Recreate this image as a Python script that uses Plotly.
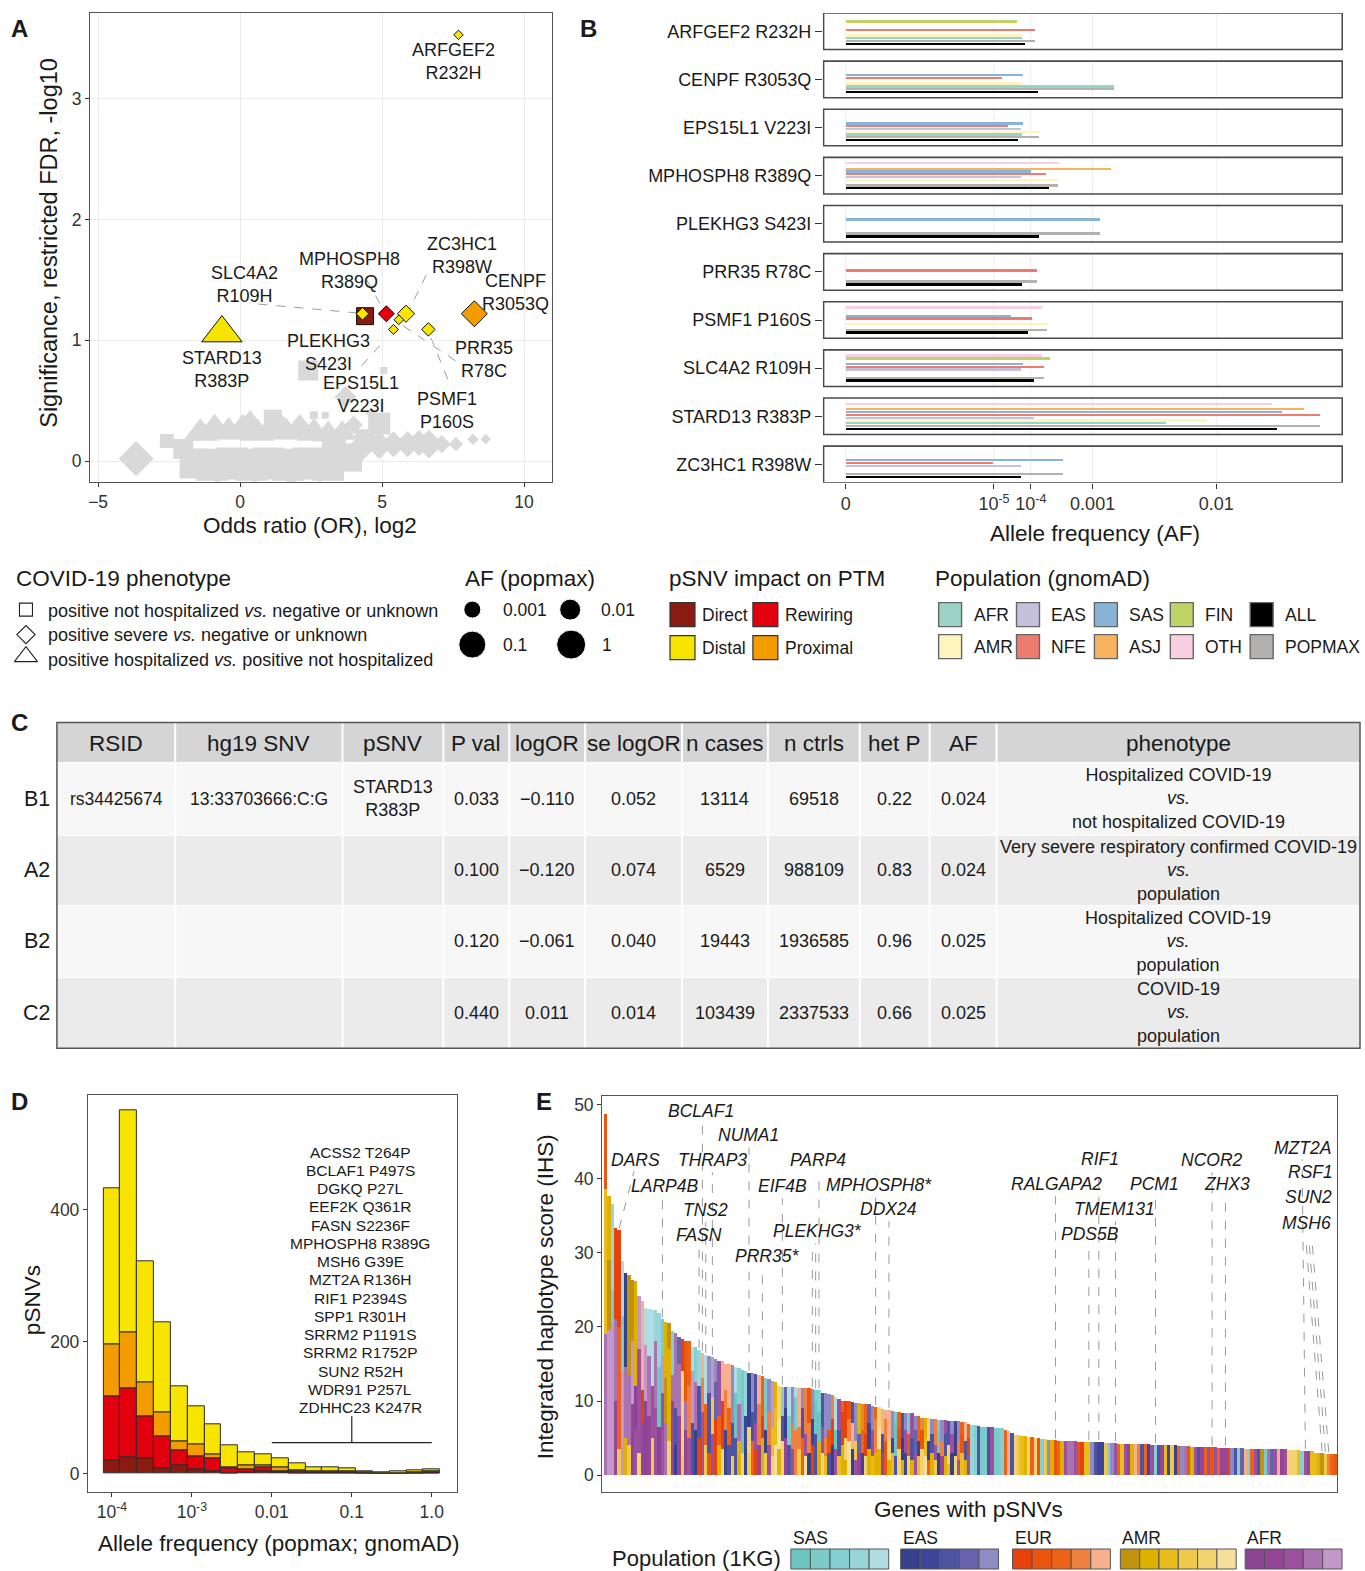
import numpy as np
import plotly.graph_objects as go

W, H = 1365, 1571
FONT = "Liberation Sans, Arial, Helvetica, sans-serif"
INK = "#1a1a1a"
TICK = "#333333"
FRAME = "#555555"

# ======================= DATA =======================
# ---- Panel A: association results ----
a_variant = ["STARD13 R383P", "PLEKHG3 S423I", "SLC4A2 R109H", "MPHOSPH8 R389Q",
             "ZC3HC1 R398W", "PRR35 R78C", "EPS15L1 V223I", "PSMF1 P160S",
             "CENPF R3053Q", "ARFGEF2 R232H"]
a_log2_or = [-0.64, 4.40, 4.31, 5.15, 5.84, 5.59, 5.40, 6.63, 8.25, 7.69]
a_neglog_fdr = [1.06, 1.20, 1.22, 1.22, 1.22, 1.17, 1.09, 1.09, 1.22, 3.53]
a_phenotype = ["hosp", "nothosp", "severe", "severe", "severe", "severe",
               "severe", "severe", "severe", "severe"]
a_impact = ["Distal", "Direct", "Distal", "Rewiring", "Distal", "Distal",
            "Distal", "Distal", "Proximal", "Distal"]
a_af_popmax = [0.0349, 1.19e-3, 1.86e-4, 3.23e-4, 3.9e-4, 1.35e-4, 1.48e-4,
               2.07e-4, 1.66e-3, 1.22e-4]

# non-significant pSNVs (grey)
a_bg_or = [-3.66, -2.58, -2.0, -1.6, -1.0, -0.3, 0.4, 1.0, 1.7, 2.4, 3.1, 3.8,
           -1.4, -0.9, -0.4, 0.1, 0.6, 1.1, 1.6, 2.1, 2.6, 3.1, 3.6, 0.35, 1.35,
           -0.8, 0.5, 1.8, 2.8, 1.15, 2.6, 3.0, 2.4, 5.06, 3.71, 4.0, 4.6, 4.9,
           4.4, 3.3, 4.3, 4.9, 5.4, 5.9, 6.3, 6.65, 7.1, 7.6, 8.2, 8.65]
a_bg_sig = [0.02, 0.165, 0.10, -0.02, -0.03, -0.02, -0.03, -0.02, -0.03, -0.02, -0.03, 0.03,
            0.23, 0.26, 0.24, 0.26, 0.23, 0.25, 0.24, 0.26, 0.23, 0.22, 0.23, 0.29, 0.29,
            -0.06, -0.05, -0.07, -0.05, 0.35, 0.38, 0.38, 0.75, 0.75, 0.53, 0.30, 0.40, 0.31,
            0.18, 0.14, 0.12, 0.13, 0.14, 0.14, 0.15, 0.14, 0.14, 0.14, 0.18, 0.18]
a_bg_pheno = ["severe", "nothosp", "nothosp", "nothosp", "nothosp", "nothosp", "nothosp",
              "nothosp", "nothosp", "nothosp", "nothosp", "nothosp",
              "hosp", "hosp", "hosp", "hosp", "hosp", "hosp", "hosp", "hosp", "hosp",
              "hosp", "hosp", "hosp", "hosp",
              "severe", "severe", "severe", "severe", "nothosp", "nothosp", "nothosp",
              "nothosp", "nothosp", "severe", "severe", "severe", "nothosp",
              "nothosp", "nothosp", "severe", "severe", "severe", "severe", "severe",
              "severe", "severe", "severe", "severe", "severe"]

# ---- Panel B: gnomAD allele frequencies ----
b_variant = ["ARFGEF2 R232H", "CENPF R3053Q", "EPS15L1 V223I", "MPHOSPH8 R389Q",
             "PLEKHG3 S423I", "PRR35 R78C", "PSMF1 P160S", "SLC4A2 R109H",
             "STARD13 R383P", "ZC3HC1 R398W"]
b_afr = [6.47e-5, 1.66e-3, 6.47e-5, 0, 0, 0, 0, 0, 4.54e-3, 0]
b_amr = [6.12e-5, 6.12e-5, 1.48e-4, 3.23e-4, 0, 0, 2.07e-4, 0, 8.76e-3, 0]
b_eas = [0, 0, 5.95e-5, 5.95e-5, 0, 0, 0, 5.95e-5, 1.135e-4, 5.95e-5]
b_nfe = [1.22e-4, 1.89e-5, 2.78e-5, 1.98e-4, 0, 1.35e-4, 1.05e-4, 1.86e-4, 0.0349, 8.8e-6]
b_sas = [0, 6.82e-5, 6.82e-5, 1.0e-4, 1.19e-3, 0, 3.39e-5, 6.82e-5, 0.0229, 3.9e-4]
b_asj = [0, 0, 0, 1.53e-3, 0, 0, 0, 0, 0.0295, 0]
b_fin = [4.88e-5, 0, 0, 0, 0, 0, 0, 2.35e-4, 0, 0]
b_oth = [0, 0, 0, 3.36e-4, 0, 0, 1.70e-4, 1.70e-4, 0.0204, 0]
b_all = [7.58e-5, 1.38e-4, 5.17e-5, 2.25e-4, 1.48e-4, 6.47e-5, 8.62e-5, 1.16e-4, 0.0218, 5.95e-5]
b_popmax = [1.22e-4, 1.66e-3, 1.48e-4, 3.23e-4, 1.19e-3, 1.35e-4, 2.07e-4, 1.86e-4, 0.0349, 3.9e-4]
b_tick_af = [0, 1e-5, 1e-4, 1e-3, 1e-2]
b_tick_text = ["0", "10<sup>-5</sup>", "10<sup>-4</sup>", "0.001", "0.01"]

# ---- Panel C: table ----
c_rowlab = ["B1", "A2", "B2", "C2"]
c_header = ["RSID", "hg19 SNV", "pSNV", "P val", "logOR", "se logOR", "n cases",
            "n ctrls", "het P", "AF", "phenotype"]
c_rsid = ["rs34425674", "", "", ""]
c_snv = ["13:33703666:C:G", "", "", ""]
c_psnv = ["STARD13<br>R383P", "", "", ""]
c_pval = [0.033, 0.100, 0.120, 0.440]
c_logor = [-0.110, -0.120, -0.061, 0.011]
c_se = [0.052, 0.074, 0.040, 0.014]
c_ncases = [13114, 6529, 19443, 103439]
c_nctrls = [69518, 988109, 1936585, 2337533]
c_hetp = [0.22, 0.83, 0.96, 0.66]
c_af = [0.024, 0.024, 0.025, 0.025]
c_pheno = ["Hospitalized COVID-19<br><i>vs.</i><br>not hospitalized COVID-19",
           "Very severe respiratory confirmed COVID-19<br><i>vs.</i><br>population",
           "Hospitalized COVID-19<br><i>vs.</i><br>population",
           "COVID-19<br><i>vs.</i><br>population"]

# ---- Panel D: AF histogram (bins centred on log10 AF) ----
d_bin_log10 = [-4.0, -3.789, -3.579, -3.368, -3.158, -2.947, -2.737, -2.526, -2.316, -2.105,
               -1.895, -1.684, -1.474, -1.263, -1.053, -0.842, -0.632, -0.421, -0.211, 0.0]
d_direct = [20, 25, 23, 8, 13, 6, 3, 1, 2, 3, 2, 1, 1, 1, 1, 0, 0, 0, 0, 1]
d_rewiring = [97, 105, 64, 48, 22, 21, 20, 7, 4, 6, 2, 2, 1, 1, 1, 1, 0, 1, 1, 1]
d_proximal = [79, 84, 52, 37, 14, 18, 7, 2, 6, 4, 5, 2, 2, 2, 1, 1, 1, 0, 1, 1]
d_distal = [236, 336, 183, 136, 83, 57, 45, 33, 21, 16, 14, 10, 5, 6, 5, 2, 1, 3, 3, 4]
d_common = ["ACSS2 T264P", "BCLAF1 P497S", "DGKQ P27L", "EEF2K Q361R", "FASN S2236F",
            "MPHOSPH8 R389G", "MSH6 G39E", "MZT2A R136H", "RIF1 P2394S", "SPP1 R301H",
            "SRRM2 P1191S", "SRRM2 R1752P", "SUN2 R52H", "WDR91 P257L", "ZDHHC23 K247R"]

# ---- Panel E: iHS per gene (overlaid population bars) ----
e_ihs_top = [48.7, 37.6, 36.6, 33.3, 33.0, 28.9, 27.2, 27.0, 26.3, 26.2,
             24.1, 23.4, 22.5, 22.4, 22.3, 22.2, 21.9, 21.0, 20.6, 20.5,
             19.4, 19.2, 18.6, 18.3, 18.1, 18.0, 17.3, 17.2, 16.8, 16.5,
             16.2, 16.1, 15.9, 15.7, 15.4, 15.3, 15.0, 14.95, 14.8, 14.5,
             14.4, 14.2, 14.0, 13.8, 13.7, 13.6, 13.5, 13.3, 13.1, 12.9,
             12.7, 12.5, 12.0, 11.9, 11.9, 11.8, 11.8, 11.8, 11.7, 11.7,
             11.7, 11.7, 11.6, 11.4, 11.4, 11.1, 11.0, 10.9, 10.8, 10.5,
             10.2, 10.0, 9.9, 9.9, 9.8, 9.7, 9.7, 9.5, 9.5, 9.5,
             9.3, 9.2, 9.1, 8.9, 8.8, 8.8, 8.6, 8.5, 8.5, 8.4,
             8.4, 8.3, 8.3, 8.0, 7.9, 7.7, 7.7, 7.6, 7.5, 7.5,
             7.4, 7.4, 7.4, 7.3, 7.3, 7.3, 7.2, 7.1, 7.1, 6.8,
             6.7, 6.7, 6.6, 6.5, 6.5,
             6.4, 6.4, 6.3, 6.3, 6.3, 6.0, 5.9, 5.7, 5.4, 5.4,
             5.3, 5.3, 5.1, 5.1, 5.0, 4.9, 4.8, 4.8, 4.7, 4.7,
             4.65, 4.6, 4.6, 4.6, 4.5, 4.5, 4.5, 4.45, 4.45, 4.45,
             4.45, 4.45, 4.45, 4.45, 4.4, 4.3, 4.3, 4.3, 4.3, 4.2,
             4.2, 4.2, 4.2, 4.2, 4.15, 4.15, 4.15, 4.1, 4.1, 4.05,
             4.05, 4.05, 4.05, 4.0, 4.0, 4.0, 4.0, 3.9, 3.9, 3.9,
             3.9, 3.75, 3.75, 3.75, 3.75, 3.72, 3.72, 3.7, 3.7, 3.65,
             3.65, 3.65, 3.65, 3.65, 3.6, 3.6, 3.6, 3.5, 3.5, 3.5,
             3.5, 3.5, 3.5, 3.5, 3.5, 3.5, 3.5, 3.5, 3.45, 3.45,
             3.3, 3.3, 3.3, 3.3, 3.25, 3.25, 3.2, 3.2, 2.9, 2.9,
             2.9, 2.8, 2.8, 2.8, 2.8]
e_pop_top = ["u2", "m2", "s4", "u1", "u1", "s5", "e1", "m1", "m1", "m2",
             "a5", "u5", "s5", "s5", "s5", "s4", "s4", "s2", "m2", "m1",
             "s3", "a4", "e4", "u1", "u2", "u3", "s5", "s3", "s4", "u5",
             "s5", "e5", "a5", "e5", "a3", "u5", "u5", "u5", "e5", "s5",
             "s3", "s2", "s4", "e1", "e5", "e3", "u5", "u3", "s2", "e5",
             "a5", "m2", "m5", "s3", "e4", "s5", "e5", "s5", "u5", "e5",
             "u4", "u2", "e5", "s2", "s3", "e3", "e5", "e5", "u4", "s5",
             "a3", "u3", "u1", "u2", "e3", "e5", "m2", "u4", "u3", "e4",
             "e5", "u3", "m5", "u5", "u5", "u5", "e5", "s2", "u3", "e3",
             "e5", "s2", "a3", "e5", "u3", "u4", "m2", "m5", "e5", "u4",
             "s2", "e5", "a3", "e3", "e5", "e2", "e5", "u3", "u5", "u3",
             "s4", "s3", "e3", "s2", "s2",
             "e3", "a3", "s2", "s2", "s3", "u3", "u5", "e3", "m5", "m4",
             "m3", "m2", "m5", "u3", "m5", "u2", "s3", "m4", "e5", "m2",
             "u2", "u3", "m2", "a3", "a4", "a4", "a3", "u2", "u1", "m3",
             "m3", "e5", "e3", "e2", "e2", "m4", "s3", "e5", "a3", "u3",
             "m3", "a3", "a2", "m2", "u5", "u4", "e3", "u3", "e2", "a3",
             "s3", "e3", "a2", "m3", "e2", "m4", "e1", "u3", "e5", "a4",
             "u2", "m2", "a3", "e3", "a2", "u3", "a3", "u2", "a3", "u3",
             "a2", "a2", "u1", "e5", "e3", "s3", "e4", "u5", "s3", "u3",
             "a3", "e3", "m1", "s2", "a4", "e4", "a3", "u5", "a2", "a3",
             "m5", "m5", "m5", "m3", "s3", "a3", "a2", "m3", "m3", "m2",
             "m1", "m4", "u4", "u3", "u2"]
e_ihs_mid = [38.6, 29.0, 25.0, 21.0, 20.0, 21.5, 14.5, 13.5, 18.0, 12.0,
             17.0, 11.5, 17.5, 16.0, 12.0, 18.0, 14.5, 16.0, 13.0, 17.0,
             13.5, 9.0, 15.0, 14.0, 10.0, 12.0, 14.0, 12.5, 12.0, 13.0,
             9.5, 11.0, 10.5, 12.5, 8.0, 10.0, 11.5, 9.0, 7.0, 11.0,
             9.5, 10.0, 8.0, 6.5, 8.5, 7.0, 9.5, 8.0, 6.0, 8.5,
             6.5, 9.0, 7.5, 8.0, 9.0, 8.0, 7.0, 10.5, 6.5, 9.0,
             5.5, 7.0, 7.5, 10.0, 8.5, 6.5, 5.0, 6.0, 7.5, 6.0,
             6.0, 8.5, 5.0, 7.5, 7.0, 4.5, 5.5, 6.0, 5.5, 7.0,
             6.0, 7.5, 6.5, 5.5, 7.5, 4.5, 5.0, 7.0, 6.5, 5.0,
             6.0, 5.5, 5.0, 6.0, 4.5, 6.0, 5.0, 4.5, 5.5, 4.0,
             6.0, 4.5, 5.5, 4.0, 5.5, 6.0, 4.5, 5.5, 4.5, 5.0]
e_pop_mid = ["m3", "m1", "s2", "a4", "u3", "s2", "a4", "a4", "a5", "a1",
             "a3", "u1", "a5", "a4", "a3", "a4", "s1", "a5", "m1", "m2",
             "a4", "e3", "a4", "m5", "a4", "u4", "a5", "a4", "e3", "u4",
             "u3", "e3", "m4", "e4", "u3", "u1", "u4", "u3", "e3", "s1",
             "a4", "s1", "e2", "m5", "e3", "a3", "u4", "u1", "e1", "u4",
             "m3", "m3", "m6", "e3", "e1", "s2", "u4", "s2", "u4", "e3",
             "a3", "u4", "e2", "s1", "s1", "a3", "u4", "u2", "u1", "s1",
             "e3", "u1", "m5", "u4", "u5", "m4", "e4", "u3", "u1", "e2",
             "a3", "u4", "m6", "e3", "u4", "m5", "e2", "s1", "u2", "e1",
             "a3", "u2", "e3", "e4", "e2", "u2", "m3", "e1", "e3", "a3",
             "s1", "u4", "e3", "m5", "a3", "e1", "u4", "u2", "e3", "u1"]
e_ihs_low = [19.0, 19.5, 20.5, 10.0, 3.5, 14.0, 5.0, 4.0, 9.5, 6.0,
             3.0, 7.0, 10.0, 8.0, 5.0, 9.0, 6.5, 11.0, 7.0, 4.5,
             10.0, 4.0, 8.0, 2.5, 6.0, 5.0, 7.0, 6.0, 5.0, 8.5,
             4.0, 3.0, 5.5, 7.5, 4.0, 3.5, 6.0, 4.0, 2.5, 5.0,
             4.5, 3.0, 3.5, 3.0, 4.5, 3.5, 4.0, 5.0, 3.0, 4.0,
             2.5, 4.0, 3.5, 4.5, 5.0, 4.0, 3.5, 6.0, 3.5, 5.0,
             2.5, 3.0, 4.0, 5.5, 4.5, 3.0, 2.5, 3.0, 4.0, 3.5,
             2.5, 4.0, 2.0, 4.5, 3.5, 2.0, 3.0, 3.0, 2.5, 3.5,
             2.5, 3.0, 3.5, 3.0, 4.5, 2.0, 3.0, 2.5, 3.5, 2.0,
             3.0, 2.5, 2.0, 3.0, 2.5, 3.5, 2.5, 2.0, 3.0, 2.0,
             3.0, 2.5, 2.5, 1.5, 3.0, 2.5, 2.0, 3.0, 2.0, 2.5]
e_pop_low = ["a4", "a5", "a5", "a2", "m4", "a5", "m2", "m4", "a2", "a3",
             "m5", "a2", "a1", "a2", "m4", "a3", "a1", "a3", "a4", "m5",
             "a2", "e1", "a2", "m4", "a2", "a3", "e3", "e1", "u1", "a3",
             "m4", "u2", "a3", "u1", "m2", "m5", "e2", "e3", "m4", "e3",
             "m2", "m5", "e1", "m4", "u3", "u1", "a2", "m2", "m4", "a3",
             "m5", "m6", "m2", "m5", "a2", "e3", "a3", "u4", "m4", "u3",
             "m6", "e1", "u1", "e3", "m2", "m5", "m3", "e3", "e1", "a3",
             "m3", "m2", "m2", "m6", "e1", "a3", "a2", "e2", "m5", "m2",
             "m3", "m2", "m2", "a2", "u2", "m2", "m3", "e3", "m5", "m2",
             "e2", "m5", "m2", "a3", "m3", "m5", "m6", "u3", "m2", "m4",
             "e1", "a2", "m2", "m3", "e1", "m5", "a3", "m3", "m2", "a3"]

# ======================= STYLE =======================
PTM_COL = {"Direct": "#8b1a10", "Rewiring": "#e2000e", "Distal": "#f7e400", "Proximal": "#f39c00"}
PHENO_SYM = {"nothosp": "square", "severe": "diamond", "hosp": "triangle-up"}
PHENO_SCALE = {"nothosp": 0.92, "severe": 1.0, "hosp": 1.36}
GNOMAD_COL = {"AFR": "#9cd3c7", "AMR": "#fdf5be", "EAS": "#c5c1dc", "NFE": "#ee7b70",
              "SAS": "#88b4d8", "ASJ": "#f6b35f", "FIN": "#c0d463", "OTH": "#f7cfe0",
              "ALL": "#000000", "POPMAX": "#b3b0b0"}
KG_COL = {"s1": "#6cc5c0", "s2": "#7bcbcb", "s3": "#86cfd0", "s4": "#98d5da", "s5": "#b0dde2",
          "e1": "#36418e", "e2": "#3d4596", "e3": "#4e54a3", "e4": "#6563ab", "e5": "#8e8cc4",
          "u1": "#e8420c", "u2": "#ea560d", "u3": "#ec6216", "u4": "#ef8040", "u5": "#f7b08d",
          "m1": "#c19310", "m2": "#e0b100", "m3": "#e9bd1c", "m4": "#efc94b", "m5": "#f2d370",
          "m6": "#f5e09b",
          "a1": "#8a4493", "a2": "#944598", "a3": "#9b51a0", "a4": "#ab72b2", "a5": "#c397c9"}
a_bg_size = [27, 14, 20, 30, 32, 32, 32, 32, 32, 32, 32, 28,
             30, 32, 30, 32, 30, 32, 30, 32, 30, 28, 26, 32, 32,
             24, 26, 26, 24, 18, 8, 7, 20, 7, 17, 14, 8, 22,
             20, 24, 22, 21, 20, 20, 20, 22, 14, 11, 9, 8]

TITLE = 22.5
TICKSZ = 17.5


def dx(l, r):
    return [l / W, r / W]


def dy(t, b):
    return [1 - b / H, 1 - t / H]


def af_size(v):
    # AF (popmax) -> marker size (px)
    return float(np.interp(np.log10(v), [-3.95, -3.83, -3.72, -3.45, -2.78, -1.4],
                           [7.2, 7.6, 10, 12.8, 20, 26]))


# B axis: piecewise fourth-root allele-frequency scale
B_TICK_POS = [0.0, 290.0, 362.0, 483.0, 725.0]


def af_pos(v):
    if v <= 0:
        return 0.0
    r = v ** 0.25
    rt = [t ** 0.25 for t in b_tick_af[1:]]
    pp = B_TICK_POS[1:]
    if r <= rt[0]:
        return pp[0] + (r - rt[0]) * (pp[1] - pp[0]) / (rt[1] - rt[0])
    if r >= rt[-1]:
        return pp[-1] + (r - rt[-1]) * (pp[-1] - pp[-2]) / (rt[-1] - rt[-2])
    return float(np.interp(r, rt, pp))


fig = go.Figure()
shapes = []
anns = []


def T(x, y, text, size=17, xa="center", ya="middle", xref="x5", yref="y5", color=INK, angle=0):
    anns.append(dict(x=x, y=y, xref=xref, yref=yref, text=text, showarrow=False,
                     xanchor=xa, yanchor=ya, textangle=angle,
                     font=dict(family=FONT, size=size, color=color)))


def R(x0, y0, x1, y1, fill=None, line=None, lw=1.0, xref="x5", yref="y5", layer="above"):
    shapes.append(dict(type="rect", x0=x0, y0=y0, x1=x1, y1=y1, xref=xref, yref=yref,
                       fillcolor=fill if fill else "rgba(0,0,0,0)",
                       line=dict(color=line if line else "rgba(0,0,0,0)", width=lw if line else 0),
                       layer=layer))


def L(x0, y0, x1, y1, color, width=1.0, dash="solid", xref="x5", yref="y5", layer="above"):
    shapes.append(dict(type="line", x0=x0, y0=y0, x1=x1, y1=y1, xref=xref, yref=yref,
                       line=dict(color=color, width=width, dash=dash), layer=layer))


# ======================= PANEL A =======================
fig.add_trace(go.Scatter(
    x=a_bg_or, y=a_bg_sig, mode="markers", xaxis="x", yaxis="y", hoverinfo="skip",
    marker=dict(symbol=[PHENO_SYM[p] for p in a_bg_pheno], size=a_bg_size, opacity=1,
                color="#d9d9d9", line=dict(width=0))))
fig.add_trace(go.Scatter(
    x=a_log2_or, y=a_neglog_fdr, mode="markers", xaxis="x", yaxis="y", text=a_variant,
    marker=dict(symbol=[PHENO_SYM[p] for p in a_phenotype], opacity=1,
                size=[af_size(v) * PHENO_SCALE[p] for v, p in zip(a_af_popmax, a_phenotype)],
                color=[PTM_COL[c] for c in a_impact], line=dict(color="#111", width=1))))

a_lab = [("ARFGEF2<br>R232H", 7.5, 3.31), ("SLC4A2<br>R109H", 0.15, 1.46),
         ("MPHOSPH8<br>R389Q", 3.84, 1.58), ("ZC3HC1<br>R398W", 7.8, 1.70),
         ("CENPF<br>R3053Q", 9.7, 1.40), ("STARD13<br>R383P", -0.64, 0.76),
         ("PLEKHG3<br>S423I", 3.1, 0.90), ("EPS15L1<br>V223I", 4.25, 0.55),
         ("PRR35<br>R78C", 8.6, 0.84), ("PSMF1<br>P160S", 7.28, 0.42)]
for t, x, y in a_lab:
    T(x, y, t, size=18, xref="x", yref="y")
a_lead = [(0.65, 1.30, 4.2, 1.225), (4.46, 1.50, 5.05, 1.25), (6.55, 1.54, 5.97, 1.26),
          (4.28, 0.79, 5.09, 1.0), (7.59, 0.83, 5.68, 1.13), (7.31, 0.68, 6.72, 1.02)]
for x0, y0, x1, y1 in a_lead:
    L(x0, y0, x1, y1, "#9a9a9a", 1, "dash", xref="x", yref="y", layer="below")

# ======================= PANEL B =======================
b_pops = {"OTH": b_oth, "FIN": b_fin, "ASJ": b_asj, "SAS": b_sas, "NFE": b_nfe,
          "EAS": b_eas, "AMR": b_amr, "AFR": b_afr, "POPMAX": b_popmax, "ALL": b_all}
NF = len(b_variant)
centres = [NF - 1 - i for i in range(NF)]
SLOT = 0.0578
BH = 0.38
for k, (pop, vals) in enumerate(b_pops.items()):
    xs, ys = [], []
    for i, v in enumerate(vals):
        if v > 0:
            xs.append(af_pos(v))
            ys.append(centres[i] + (4.5 - k) * SLOT)
    fig.add_trace(go.Bar(x=xs, y=ys, base=0, orientation="h", xaxis="x2", yaxis="y2",
                         width=0.054 if pop == "ALL" else 0.048,
                         marker=dict(color=GNOMAD_COL[pop], line=dict(width=0)),
                         name=pop, hoverinfo="skip"))
b_xmin, b_xmax = -45, 973
tick_pos = [af_pos(v) for v in b_tick_af]
for c in centres:
    for tp in tick_pos:
        L(tp, c - BH, tp, c + BH, "#ececec", 1, xref="x2", yref="y2", layer="below")
    R(b_xmin + 1.5, c - BH, b_xmax - 1.5, c + BH, line="#4a4a4a", lw=1.6, xref="x2", yref="y2")

# ======================= PANEL D =======================
d_width = 4 / 19
base = np.zeros(len(d_bin_log10))
for vals, key in [(d_direct, "Direct"), (d_rewiring, "Rewiring"), (d_proximal, "Proximal"),
                  (d_distal, "Distal")]:
    fig.add_trace(go.Bar(x=d_bin_log10, y=vals, base=base.copy(), width=d_width,
                         xaxis="x3", yaxis="y3", hoverinfo="skip",
                         marker=dict(color=PTM_COL[key], line=dict(color="#2b2b2b", width=1))))
    base = base + np.array(vals)
for j, name in enumerate(d_common):
    py = 1151.7 + j * 18.26
    T(-0.896, (1473.3 - py) / 0.66, name, size=15.5, xref="x3", yref="y3")
L(-2, 47, 0, 47, "#222", 1.2, xref="x3", yref="y3")
L(-1, 47, -1, 86.8, "#222", 1.2, xref="x3", yref="y3")

# ======================= PANEL E =======================
NE = len(e_ihs_top)
pad = NE - len(e_ihs_mid)
mid_v = e_ihs_mid + [0] * pad
mid_c = e_pop_mid + ["s1"] * pad
low_v = e_ihs_low + [0] * pad
low_c = e_pop_low + ["s1"] * pad
ex_idx = list(range(NE))
for vals, cols in [(e_ihs_top, e_pop_top), (mid_v, mid_c), (low_v, low_c)]:
    fig.add_trace(go.Bar(x=ex_idx, y=vals, width=1.0, xaxis="x4", yaxis="y4",
                         hoverinfo="skip",
                         marker=dict(color=[KG_COL[c] for c in cols], line=dict(width=0))))

E_L, E_R, E_T, E_B = 601, 1337, 1096, 1492
E_BW = (E_R - 603) / NE
E_Y0, E_PX = 1475.0, 7.41


def ex(px):
    return (px - 603) / E_BW - 0.5


def ey(py):
    return (E_Y0 - py) / E_PX


e_labels = [("DARS", 634, 1160, [4], (633, 1171)),
            ("LARP4B", 663, 1186, [17], None),
            ("BCLAF1", 700, 1111, [29], None),
            ("THRAP3", 712, 1160, [32], None),
            ("TNS2", 705, 1210, [30], None),
            ("FASN", 698, 1235, [28], None),
            ("NUMA1", 748, 1135, [43], None),
            ("PRR35*", 766, 1256, [47], None),
            ("EIF4B", 782, 1186, [53], None),
            ("PARP4", 817, 1160, [64], None),
            ("PLEKHG3*", 817, 1231, [62, 63], None),
            ("MPHOSPH8*", 878, 1185, [81], None),
            ("DDX24", 888, 1209, [85], None),
            ("RALGAPA2", 1056, 1184, [135], None),
            ("RIF1", 1100, 1159, [148], None),
            ("TMEM131", 1114, 1209, [153], None),
            ("PDS5B", 1090, 1234, [145], None),
            ("PCM1", 1154, 1184, [165], None),
            ("NCOR2", 1212, 1160, [182], None),
            ("ZHX3", 1227, 1184, [186], None),
            ("MZT2A", 1302, 1148, [210], (1302, 1159)),
            ("RSF1", 1310, 1172, [215], (1306, 1241)),
            ("SUN2", 1308, 1197, [216], (1309, 1241)),
            ("MSH6", 1306, 1223, [217], (1312, 1241))]
for name, cx, cy, idxs, top in e_labels:
    T(cx, cy, "<i>%s</i>" % name, size=17.5)
    for i in idxs:
        y_bar = e_ihs_top[i] + 0.3
        if top is None:
            L(i, y_bar, i, ey(cy + 12), "#9a9a9a", 1, "dash", xref="x4", yref="y4")
        else:
            L(i, y_bar, ex(top[0]), ey(top[1]), "#9a9a9a", 1, "dash", xref="x4", yref="y4")

# 1KG population legend
T(782, 1558, "Population (1KG)", size=22, xa="right")
groups = [("SAS", ["s1", "s2", "s3", "s4", "s5"], 790, 888),
          ("EAS", ["e1", "e2", "e3", "e4", "e5"], 900, 998),
          ("EUR", ["u1", "u2", "u3", "u4", "u5"], 1012, 1110),
          ("AMR", ["m1", "m2", "m3", "m4", "m5", "m6"], 1120, 1236),
          ("AFR", ["a1", "a2", "a3", "a4", "a5"], 1245, 1342)]
for g, keys, x0, x1 in groups:
    T(x0, 1538, g, size=17.5, xa="left")
    bw = (x1 - x0) / len(keys)
    for k, key in enumerate(keys):
        R(x0 + k * bw, 1549, x0 + (k + 1) * bw, 1569, fill=KG_COL[key], line="#555", lw=1)

# ======================= PANEL C (table) =======================
cb = [55, 173.5, 341, 442, 508, 584, 681, 767, 859, 929, 996, 1360]
rb = [722, 762, 835, 905, 977, 1048]
R(cb[0], rb[0], cb[-1], rb[1], fill="#d5d5d5")
for r in range(4):
    R(cb[0], rb[r + 1], cb[-1], rb[r + 2], fill="#f7f7f7" if r % 2 == 0 else "#ebebeb")
for x in cb[1:-1]:
    L(x, rb[0], x, rb[-1], "#ffffff", 2)
for y in rb[1:-1]:
    L(cb[0], y, cb[-1], y, "#ffffff", 1)
R(cb[0], rb[0], cb[-1], rb[-1], line="#555555", lw=1.5)
for j, h in enumerate(c_header):
    T((cb[j] + cb[j + 1]) / 2, (rb[0] + rb[1]) / 2 + 1, h, size=22.5)


def fnum(v, nd):
    s = ("%." + str(nd) + "f") % v
    return s.replace("-", "\u2212")


for r in range(4):
    yc = (rb[r + 1] + rb[r + 2]) / 2
    T(35, yc, c_rowlab[r], size=21.5)
    cells = [c_rsid[r], c_snv[r], c_psnv[r], fnum(c_pval[r], 3), fnum(c_logor[r], 3),
             fnum(c_se[r], 3), str(c_ncases[r]), str(c_nctrls[r]), fnum(c_hetp[r], 2),
             fnum(c_af[r], 3), c_pheno[r]]
    for j, s in enumerate(cells):
        if s:
            T((cb[j] + cb[j + 1]) / 2, yc, s, size=17.5 if j < 2 else 18)

# ======================= LEGENDS =======================
T(12, 578, "COVID-19 phenotype", size=22.5, xa="left")
T(462, 578, "AF (popmax)", size=22.5, xa="left")
T(666, 578, "pSNV impact on PTM", size=22.5, xa="left")
T(932, 578, "Population (gnomAD)", size=22.5, xa="left")
ph_txt = ["positive not hospitalized <i>vs.</i> negative or unknown",
          "positive severe <i>vs.</i> negative or unknown",
          "positive hospitalized <i>vs.</i> positive not hospitalized"]
ph_y = [610, 634, 659]
for t, y in zip(ph_txt, ph_y):
    T(44, y, t, size=18, xa="left")
fig.add_trace(go.Scatter(x=[24, 24, 24], y=[609, 634, 656], mode="markers", xaxis="x5",
                         yaxis="y5", hoverinfo="skip",
                         marker=dict(symbol=["square-open", "diamond-open", "triangle-up-open"],
                                     size=[13, 14, 20], color="#222", opacity=1,
                                     line=dict(width=1.1))))
af_leg = [(0.001, "0.001", 471, 609, 17), (0.01, "0.01", 569, 609, 21),
          (0.1, "0.1", 471, 644, 27), (1, "1", 570, 644, 29)]
fig.add_trace(go.Scatter(x=[a[2] for a in af_leg], y=[a[3] for a in af_leg], mode="markers",
                         xaxis="x5", yaxis="y5", hoverinfo="skip",
                         marker=dict(size=[a[4] for a in af_leg], color="#000", opacity=1)))
for _, lab, x, y, s in af_leg:
    T(x + 29, y, lab, size=17.5, xa="left")
ptm_leg = [("Direct", 669, 602), ("Rewiring", 752, 602), ("Distal", 669, 635),
           ("Proximal", 752, 635)]
for lab, x, y in ptm_leg:
    R(x, y, x + 25, y + 24, fill=PTM_COL[lab], line="#333", lw=1.2)
    T(x + 30, y + 12, lab, size=17.5, xa="left")
gn_leg = [("AFR", 938, 602), ("EAS", 1016, 602), ("SAS", 1094, 602), ("FIN", 1170, 602),
          ("ALL", 1250, 602), ("AMR", 938, 634), ("NFE", 1016, 634), ("ASJ", 1094, 634),
          ("OTH", 1170, 634), ("POPMAX", 1250, 634)]
for lab, x, y in gn_leg:
    R(x, y, x + 23, y + 24, fill=GNOMAD_COL[lab], line="#666", lw=1.4)
    T(x + 33, y + 12, lab, size=17.5, xa="left")

# ======================= TITLES / LETTERS =======================
for lt, x, y in [("A", 18, 28), ("B", 587, 28), ("C", 18, 722), ("D", 18, 1101), ("E", 543, 1101)]:
    T(x, y, "<b>%s</b>" % lt, size=24)
T(308, 525, "Odds ratio (OR), log2", size=TITLE)
T(47, 242, "Significance, restricted FDR, -log10", size=23.5, angle=-90)
T(1095, 533, "Allele frequency (AF)", size=TITLE)
T(277, 1543, "Allele frequency (popmax; gnomAD)", size=TITLE)
T(30, 1300, "pSNVs", size=TITLE, angle=-90)
T(544, 1297, "Integrated haplotype score (IHS)", size=TITLE, angle=-90)
T(968, 1509, "Genes with pSNVs", size=TITLE)

# ======================= AXES =======================
tf = dict(family=FONT, size=TICKSZ, color=TICK)
box = dict(showline=True, mirror=True, linecolor=FRAME, linewidth=1, zeroline=False,
           ticks="outside", ticklen=4, tickcolor=TICK, tickfont=tf, fixedrange=True)
layout = dict(
    width=W, height=H, margin=dict(l=0, r=0, t=0, b=0),
    paper_bgcolor="white", plot_bgcolor="rgba(0,0,0,0)",
    showlegend=False, barmode="overlay", bargap=0,
    font=dict(family=FONT, color=INK),
    xaxis=dict(domain=dx(88, 551), range=[-5.29, 10.99], anchor="y",
               tickvals=[-5, 0, 5, 10], showgrid=True, gridcolor="#ebebeb", **box),
    yaxis=dict(domain=dy(12, 481), range=[-0.171, 3.711], anchor="x",
               tickvals=[0, 1, 2, 3], showgrid=True, gridcolor="#ebebeb", **box),
    xaxis2=dict(domain=dx(822, 1343), range=[b_xmin, b_xmax], anchor="y2",
                tickvals=tick_pos, ticktext=b_tick_text, showgrid=False, showline=False,
                zeroline=False, ticks="outside", ticklen=5, tickcolor=TICK,
                tickfont=dict(family=FONT, size=18, color=TICK), fixedrange=True),
    yaxis2=dict(domain=dy(12, 482), range=[-BH, NF - 1 + BH], anchor="x2",
                tickvals=centres, ticktext=b_variant, showgrid=False, showline=False,
                zeroline=False, ticks="outside", ticklen=7, tickcolor=TICK,
                tickfont=dict(family=FONT, size=18, color=INK), fixedrange=True),
    xaxis3=dict(domain=dx(86, 456), range=[-4.30, 0.32], anchor="y3",
                tickvals=[-4, -3, -2, -1, 0],
                ticktext=["10<sup>-4</sup>", "10<sup>-3</sup>", "0.01", "0.1", "1.0"],
                showgrid=False, **box),
    yaxis3=dict(domain=dy(1095, 1492), range=[-27.9, 573.2], anchor="x3",
                tickvals=[0, 200, 400], showgrid=False, **box),
    xaxis4=dict(domain=dx(E_L, E_R), range=[ex(E_L), NE - 0.5], anchor="y4",
                showgrid=False, showline=True, mirror=True, linecolor=FRAME, linewidth=1,
                zeroline=False, showticklabels=False, ticks="", fixedrange=True),
    yaxis4=dict(domain=dy(E_T, E_B), range=[ey(E_B), ey(E_T)], anchor="x4",
                tickvals=[0, 10, 20, 30, 40, 50], showgrid=False, **box),
    xaxis5=dict(domain=[0, 1], range=[0, W], anchor="y5", visible=False, fixedrange=True),
    yaxis5=dict(domain=[0, 1], range=[H, 0], anchor="x5", visible=False, fixedrange=True),
    shapes=shapes, annotations=anns,
)
fig.update_layout(**layout)
fig.write_html("out.html", config={"displayModeBar": False},
               post_script="document.body.style.margin='0';document.body.style.padding='0';")
